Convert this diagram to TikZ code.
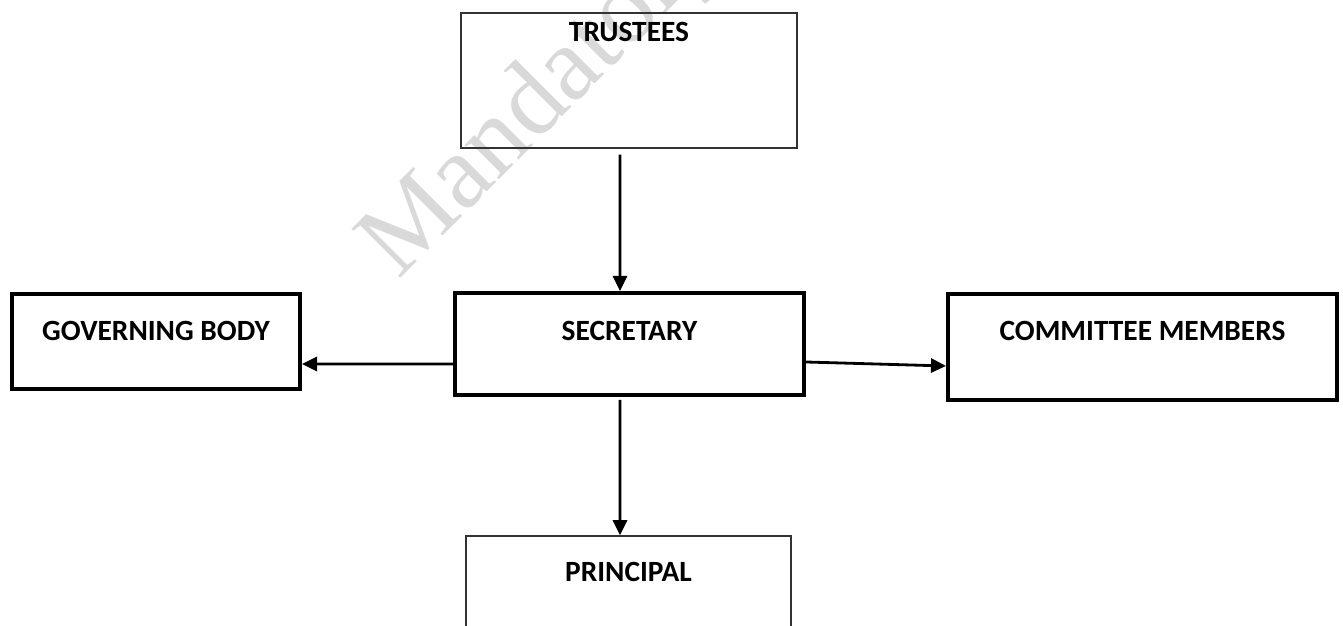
\documentclass[tikz,border=0pt]{standalone}
\usepackage{fontspec}
\setmainfont{Carlito}
\newfontfamily\markfont{Liberation Serif}
\usetikzlibrary{arrows.meta}

\tikzset{
	unit/.style={draw, rectangle, line width=4bp, inner sep=0pt},
	thinunit/.style={draw=black!80, rectangle, line width=1.5bp, inner sep=0pt},
	title/.style={font=\bfseries\fontsize{29.5}{29.5}\selectfont, inner sep=0pt, anchor=north},
	link/.style={line width=2.8bp, -{Triangle[length=15bp,width=14bp]}},
}

\begin{document}
\begin{tikzpicture}[x=1bp,y=1bp]
			\useasboundingbox (0,0) rectangle (1343,626);
			\clip (0,0) rectangle (1343,626);
			%% watermark
			\node[text=black!15, font=\markfont\fontsize{106}{106}\selectfont, rotate=45, anchor=base west, inner sep=0pt] (mark) at (398,345) {Mandatory};
			%% boxes
			\node[thinunit, minimum width=336bp, minimum height=135bp, label={[title, yshift=-10bp]north:TRUSTEES}] (trust) at (629,545.5) {};
			\node[unit, minimum width=349bp, minimum height=102bp, label={[title, yshift=-30bp]north:SECRETARY}] (sec) at (629.5,282) {};
			\node[unit, minimum width=288bp, minimum height=95bp, label={[title, yshift=-29bp]north:GOVERNING BODY}] (gov) at (156,284.5) {};
			\node[unit, minimum width=389bp, minimum height=106bp, label={[title, yshift=-29bp]north:COMMITTEE MEMBERS}] (comm) at (1142.5,279) {};
			\node[thinunit, minimum width=325bp, minimum height=124bp, label={[title, yshift=-27bp]north:PRINCIPAL}] (prin) at (628.5,28) {};
			%%% edges
			\draw[link] ([xshift=-9bp,yshift=-6bp]trust.south) -- ([xshift=-9.5bp]sec.north);
			\draw[link] ([yshift=-20bp]sec.west) -- ([yshift=-22.5bp]gov.east);
			\draw[link] ([yshift=-18bp]sec.east) -- ([yshift=-19bp]comm.west);
			\draw[link] ([xshift=-9.5bp,yshift=-3bp]sec.south) -- ([xshift=-8.5bp]prin.north);
\end{tikzpicture}
\end{document}
